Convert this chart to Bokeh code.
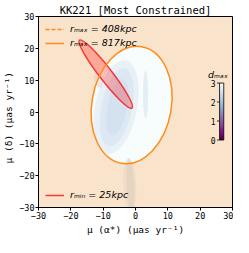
import numpy as np
from bokeh.plotting import figure
from bokeh.models import LinearColorMapper, FixedTicker, Legend, LegendItem
from bokeh.core.properties import value
from bokeh.embed import file_html
from bokeh.resources import INLINE
from bokeh.palettes import BuPu9

# ---------------- data ----------------
title_text = "KK221 [Most Constrained]"
axis_ticks = [-30, -20, -10, 0, 10, 20, 30]
cbar_ticks = [0, 1, 2, 3]
cbar_low, cbar_high = 0.0, 3.0

# r_max = 817 kpc ellipse (center, full axes, angle in rad)
rmax_x = [-1.2]
rmax_y = [2.2]
rmax_w = [24.6]
rmax_h = [37.2]
rmax_angle = [-0.17]

# r_min = 25 kpc ellipse
rmin_x = [-9.2]
rmin_y = [11.9]
rmin_w = [26.6]
rmin_h = [4.0]
rmin_angle = [2.23]

# d_max field: soft shading blobs
shade_x = [-6.0, -5.8, -5.6, 3.1, -1.8, -1.6, -11.5]
shade_y = [1.5, 1.5, 1.5, 5.5, -23.0, -23.0, 10.0]
shade_w = [13.0, 9.5, 6.0, 1.6, 4.0, 2.4, 2.6]
shade_h = [30.0, 25.0, 18.0, 15.0, 17.0, 17.0, 5.0]
shade_a = [-0.2, -0.2, -0.2, 0.0, 0.05, 0.05, 0.3]
shade_c = ["#cddcec", "#c6d6ea", "#c2d3e8", "#d6e2ef", "#dccfc2", "#d6c8bb", "#d2c9bf"]
shade_alpha = [0.35, 0.35, 0.3, 0.55, 0.35, 0.4, 0.35]

legend_top_labels = ["r\u2098\u2090\u2093 = 408kpc", "r\u2098\u2090\u2093 = 817kpc"]
legend_bottom_label = "r\u2098\u1d62\u2099 = 25kpc"

# ---------------- styling ----------------
MONO = "DejaVu Sans Mono"
PEACH = "#fae3cb"
ORANGE = "#ff8c1a"


def interp_palette(pal, n):
    rgb = np.array([[int(c[i:i + 2], 16) for i in (1, 3, 5)] for c in pal], float)
    pos = np.linspace(0, 1, len(pal))
    t = np.linspace(0, 1, n)
    out = []
    for v in t:
        r, g, b = (np.interp(v, pos, rgb[:, k]) for k in range(3))
        out.append("#%02x%02x%02x" % (int(round(r)), int(round(g)), int(round(b))))
    return out


palette = interp_palette(list(BuPu9), 64)
mapper = LinearColorMapper(palette=palette, low=cbar_low, high=cbar_high)

p = figure(width=233, height=237, x_range=(-30, 30), y_range=(-30, 30),
           output_backend="svg", toolbar_location=None,
           min_border_left=2, min_border_right=1, min_border_top=0, min_border_bottom=0)

p.title.text = title_text
p.title.align = "center"
p.title.text_font = MONO
p.title.text_font_size = "10.5px"
p.title.text_font_style = "normal"
p.title.text_color = "black"
p.title.standoff = 2

p.background_fill_color = PEACH
p.border_fill_color = "white"
p.outline_line_color = "black"
p.outline_line_width = 1
p.grid.visible = False

for ax in (p.xaxis, p.yaxis):
    ax.ticker = FixedTicker(ticks=axis_ticks)
    ax.minor_tick_line_color = None
    ax.major_tick_in = 0
    ax.major_tick_out = 3
    ax.major_label_standoff = 1
    ax.axis_label_standoff = 2
    ax.major_label_text_font = MONO
    ax.major_label_text_font_size = "8.5px"
    ax.major_label_text_color = "black"
    ax.axis_label_text_font = MONO
    ax.axis_label_text_font_size = "9.5px"
    ax.axis_label_text_font_style = "normal"
    ax.axis_label_text_color = "black"
    ax.axis_line_color = "black"
    ax.major_tick_line_color = "black"

p.xaxis.axis_label = "\u03bc (\u03b1*) (\u03bcas yr\u207b\u00b9)"
p.yaxis.axis_label = "\u03bc  (\u03b4)  (\u03bcas yr\u207b\u00b9)"

# field: white region inside the ellipse
p.ellipse(x=rmax_x, y=rmax_y, width=rmax_w, height=rmax_h, angle=rmax_angle,
          fill_color="#f7fcfd", line_color=None)
# shading
p.ellipse(x=shade_x, y=shade_y, width=shade_w, height=shade_h, angle=shade_a,
          fill_color=shade_c, fill_alpha=shade_alpha, line_color=None)

# r_min ellipse
p.ellipse(x=rmin_x, y=rmin_y, width=rmin_w, height=rmin_h, angle=rmin_angle,
          fill_color="red", fill_alpha=0.26, line_color="red", line_alpha=0.75,
          line_width=1.4)

# r_max ellipse outline
p.ellipse(x=rmax_x, y=rmax_y, width=rmax_w, height=rmax_h, angle=rmax_angle,
          fill_color=None, line_color=ORANGE, line_width=1.5)

# colorbar drawn in data space
cb_x0, cb_x1 = 26.0, 27.3
cb_y0, cb_y1 = -8.8, 9.1
grad = np.linspace(cbar_low, cbar_high, 128).reshape(-1, 1)
p.image(image=[grad], x=cb_x0, y=cb_y0, dw=cb_x1 - cb_x0, dh=cb_y1 - cb_y0,
        color_mapper=mapper)
p.quad(left=[cb_x0], right=[cb_x1], bottom=[cb_y0], top=[cb_y1],
       fill_color=None, line_color="black", line_width=0.8)
ty = [cb_y0 + (t - cbar_low) / (cbar_high - cbar_low) * (cb_y1 - cb_y0) for t in cbar_ticks]
p.segment(x0=[cb_x0 - 0.8] * len(ty), x1=[cb_x0] * len(ty), y0=ty, y1=ty,
          line_color="black", line_width=0.8)
p.text(x=[cb_x0 - 1.2] * len(ty), y=ty, text=[str(t) for t in cbar_ticks],
       text_align="right", text_baseline="middle", text_font=value(MONO),
       text_font_size="8px", text_color="black")
p.text(x=[cb_x0 - 0.5], y=[cb_y1 + 1.0], text=["d\u2098\u2090\u2093"],
       text_align="center", text_baseline="bottom", text_font=value("DejaVu Sans"),
       text_font_style="italic", text_font_size="9.5px", text_color="black")

# legend proxies
r_dash = p.line(x=[np.nan], y=[np.nan], line_color=ORANGE, line_width=1.5, line_dash="4 2")
r_solid = p.line(x=[np.nan], y=[np.nan], line_color=ORANGE, line_width=1.5)
r_red = p.line(x=[np.nan], y=[np.nan], line_color="red", line_alpha=0.75, line_width=1.5)

leg_style = dict(background_fill_alpha=0, border_line_alpha=0,
                 label_text_font="DejaVu Sans", label_text_font_size="9.5px",
                 label_text_font_style="italic", label_text_color="black",
                 glyph_width=19, glyph_height=10, label_standoff=6,
                 spacing=3, padding=3, margin=4, label_height=11)
leg1 = Legend(items=[LegendItem(label=legend_top_labels[0], renderers=[r_dash]),
                     LegendItem(label=legend_top_labels[1], renderers=[r_solid])],
              location="top_left", **leg_style)
leg2 = Legend(items=[LegendItem(label=legend_bottom_label, renderers=[r_red])],
              location="bottom_left", **leg_style)
p.add_layout(leg1)
p.add_layout(leg2)

open("out.html", "w").write(file_html(p, INLINE))
